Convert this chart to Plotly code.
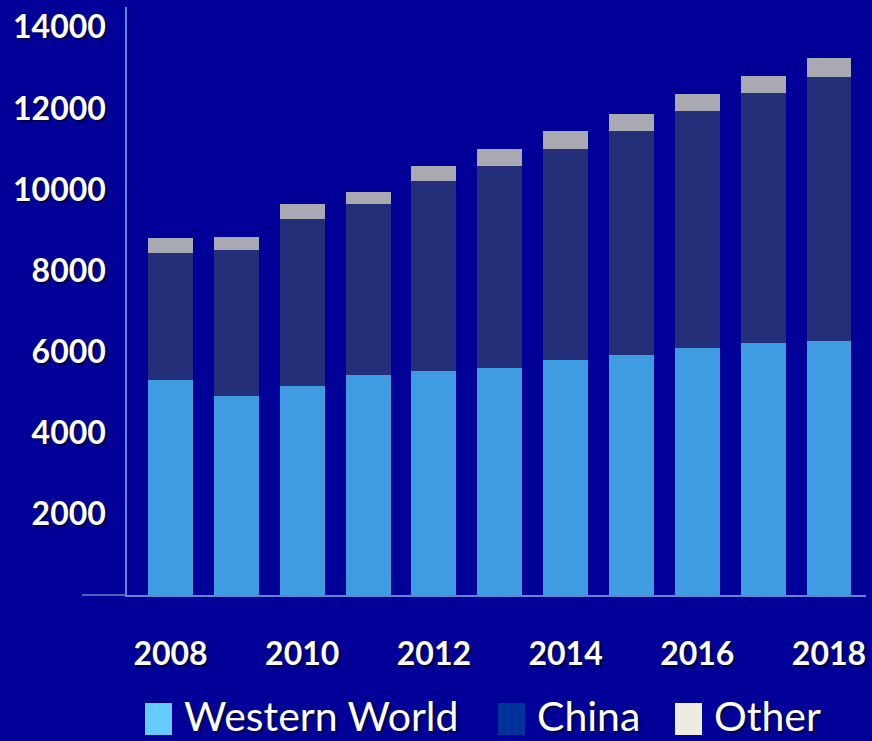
import plotly.graph_objects as go

years = [2008, 2009, 2010, 2011, 2012, 2013, 2014, 2015, 2016, 2017, 2018]
western_world = [5310, 4910, 5160, 5430, 5530, 5600, 5800, 5930, 6100, 6220, 6270]
china = [3135, 3610, 4120, 4200, 4670, 4990, 5190, 5500, 5830, 6170, 6500]
other = [370, 300, 350, 320, 370, 400, 440, 420, 420, 420, 470]
y_ticks = [2000, 4000, 6000, 8000, 10000, 12000, 14000]
x_ticks = [2008, 2010, 2012, 2014, 2016, 2018]
legend_names = ["Western World", "China", "Other"]
legend_colors = ["#66CCFF", "#003399", "#EEECE1"]

W, H = 872, 741
ML, MR, MT, MB = 127, 6, 7, 146
PW, PH = W - ML - MR, H - MT - MB
BG = "#000099"
AXIS = "#5A8AD6"
SHADOW = "2px 2px 2px rgba(0,0,0,0.55)"
FONT = "Lato"


def px_x(p):
    return (p - ML) / PW


def px_y(p):
    return (H - MB - p) / PH


fig = go.Figure()
fig.add_bar(x=years, y=western_world, name="Western World", marker=dict(color="#3F9CE0", line=dict(width=0)))
fig.add_bar(x=years, y=china, name="China", marker=dict(color="#232F78", line=dict(width=0)))
fig.add_bar(x=years, y=other, name="Other", marker=dict(color="#A9A9B1", line=dict(width=0)))

fig.update_layout(
    width=W, height=H,
    margin=dict(l=ML, r=MR, t=MT, b=MB),
    paper_bgcolor=BG, plot_bgcolor=BG,
    barmode="stack", bargap=0.317,
    showlegend=False,
    font=dict(family=FONT, color="white"),
)
fig.update_xaxes(
    range=[2007.339, 2018.562],
    tickvals=x_ticks, ticktext=[str(v) for v in x_ticks],
    showgrid=False, zeroline=False,
    showline=True, linecolor=AXIS, linewidth=1.5,
    ticks="outside", ticklen=0, ticklabelstandoff=30,
    tickfont=dict(family=FONT, size=32, color="white", weight="bold", shadow=SHADOW),
)
fig.update_yaxes(
    range=[0, 14500],
    tickvals=y_ticks, ticktext=[str(v) for v in y_ticks],
    showgrid=False, zeroline=False,
    showline=True, linecolor=AXIS, linewidth=1.5,
    ticks="outside", ticklen=0, ticklabelstandoff=13,
    tickfont=dict(family=FONT, size=32, color="white", weight="bold", shadow=SHADOW),
)

# extension of baseline to the left of the value axis
fig.add_shape(type="line", xref="paper", yref="paper",
              x0=px_x(82), x1=0, y0=0, y1=0,
              line=dict(color=AXIS, width=1.5))

# custom legend
box_left = [145, 498, 675]
text_left = [183, 536, 713]
for name, col, bl, tl in zip(legend_names, legend_colors, box_left, text_left):
    fig.add_shape(type="rect", xref="paper", yref="paper",
                  x0=px_x(bl), x1=px_x(bl + 27), y0=px_y(735), y1=px_y(703),
                  fillcolor=col, line=dict(width=0))
    fig.add_annotation(xref="paper", yref="paper", x=px_x(tl), y=px_y(715),
                       xanchor="left", yanchor="middle", showarrow=False,
                       text=name, borderpad=0,
                       font=dict(family=FONT, size=41, color="white", shadow=SHADOW))

fig.write_html(
    "out.html",
    config={"displayModeBar": False},
    post_script="document.body.style.margin='0';document.body.style.overflow='hidden';"
                "document.body.style.background='#000099';",
)
